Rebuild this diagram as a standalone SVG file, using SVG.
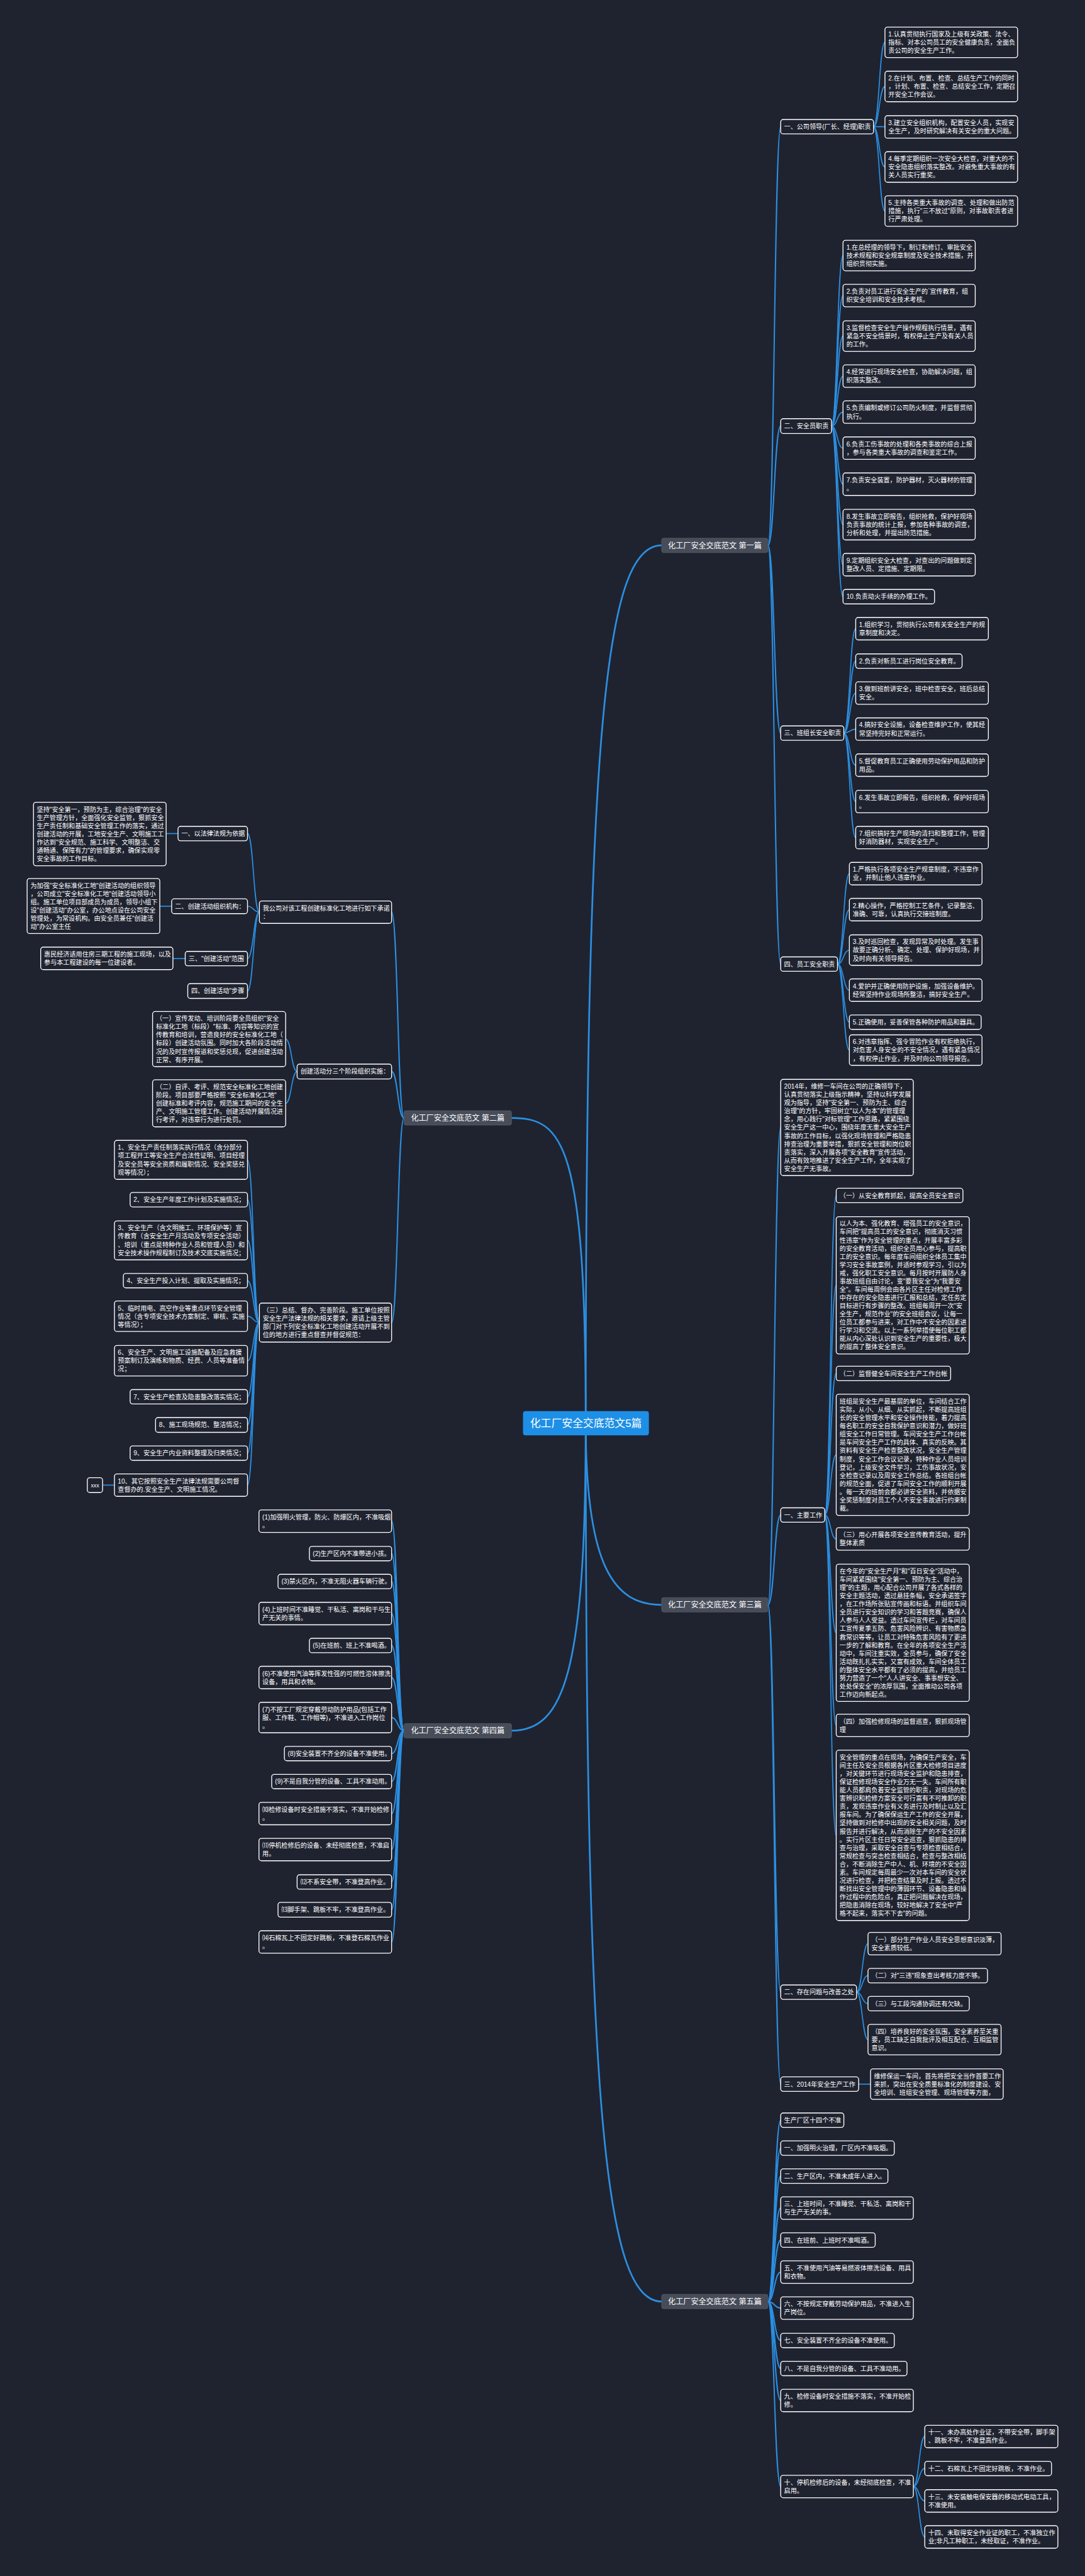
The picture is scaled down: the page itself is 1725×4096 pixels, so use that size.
<svg xmlns="http://www.w3.org/2000/svg" width="1725" height="4096" viewBox="0 0 1725 4096">
<style>
text{font-family:'Liberation Sans','Noto Sans CJK SC',sans-serif;fill:#ffffff}
.n rect{fill:#1f2330;stroke:#ffffff;stroke-width:2}
.n text{font-size:15px}
.l1 rect{fill:#474c59;stroke:#5c616d;stroke-width:1}
.l1 text{font-size:18px;text-anchor:middle}
.c rect{fill:#1d8fe6}
.c text{font-size:25px;text-anchor:middle}
#edges path{fill:none;stroke:#2b90e3;stroke-width:2.5}
#edges .e0{stroke-width:4}
#edges .e1{stroke-width:3}
</style>
<rect width="1725" height="4096" fill="#1f2330"/>
<g transform="scale(0.67383)">
<g id="edges">
<path class="e0" d="M1382 3358 C1382 1700 1430 1287 1561 1287"/>
<path class="e0" d="M1382 3358 C1382 2700 1330 2638 1207 2638"/>
<path class="e0" d="M1382 3358 C1382 3700 1450 3787 1561 3787"/>
<path class="e0" d="M1382 3358 C1382 3950 1330 4084 1207 4084"/>
<path class="e0" d="M1382 3358 C1382 5000 1430 5431 1561 5431"/>
<path class="e1" d="M1812 1287 C1827 1287 1827 299 1842 299"/>
<path class="e1" d="M1812 1287 C1827 1287 1827 1005.5 1842 1005.5"/>
<path class="e1" d="M1812 1287 C1827 1287 1827 1730 1842 1730"/>
<path class="e1" d="M1812 1287 C1827 1287 1827 2275 1842 2275"/>
<path d="M2061 299 C2074.5 299 2074.5 100 2088 100"/>
<path d="M2061 299 C2074.5 299 2074.5 204 2088 204"/>
<path d="M2061 299 C2074.5 299 2074.5 299 2088 299"/>
<path d="M2061 299 C2074.5 299 2074.5 394 2088 394"/>
<path d="M2061 299 C2074.5 299 2074.5 498 2088 498"/>
<path d="M1962 1005.5 C1975.5 1005.5 1975.5 603 1989 603"/>
<path d="M1962 1005.5 C1975.5 1005.5 1975.5 697.5 1989 697.5"/>
<path d="M1962 1005.5 C1975.5 1005.5 1975.5 793 1989 793"/>
<path d="M1962 1005.5 C1975.5 1005.5 1975.5 887.5 1989 887.5"/>
<path d="M1962 1005.5 C1975.5 1005.5 1975.5 972.5 1989 972.5"/>
<path d="M1962 1005.5 C1975.5 1005.5 1975.5 1057.5 1989 1057.5"/>
<path d="M1962 1005.5 C1975.5 1005.5 1975.5 1142.5 1989 1142.5"/>
<path d="M1962 1005.5 C1975.5 1005.5 1975.5 1238 1989 1238"/>
<path d="M1962 1005.5 C1975.5 1005.5 1975.5 1332.5 1989 1332.5"/>
<path d="M1962 1005.5 C1975.5 1005.5 1975.5 1408 1989 1408"/>
<path d="M1991 1730 C2005 1730 2005 1483.5 2019 1483.5"/>
<path d="M1991 1730 C2005 1730 2005 1560 2019 1560"/>
<path d="M1991 1730 C2005 1730 2005 1635.5 2019 1635.5"/>
<path d="M1991 1730 C2005 1730 2005 1720.5 2019 1720.5"/>
<path d="M1991 1730 C2005 1730 2005 1805.5 2019 1805.5"/>
<path d="M1991 1730 C2005 1730 2005 1891.5 2019 1891.5"/>
<path d="M1991 1730 C2005 1730 2005 1976.5 2019 1976.5"/>
<path d="M1976 2275 C1990 2275 1990 2061.5 2004 2061.5"/>
<path d="M1976 2275 C1990 2275 1990 2146.5 2004 2146.5"/>
<path d="M1976 2275 C1990 2275 1990 2242 2004 2242"/>
<path d="M1976 2275 C1990 2275 1990 2336.5 2004 2336.5"/>
<path d="M1976 2275 C1990 2275 1990 2412 2004 2412"/>
<path d="M1976 2275 C1990 2275 1990 2478 2004 2478"/>
<path class="e1" d="M1812 3787 C1827 3787 1827 2660.5 1842 2660.5"/>
<path class="e1" d="M1812 3787 C1827 3787 1827 3575 1842 3575"/>
<path class="e1" d="M1812 3787 C1827 3787 1827 4701 1842 4701"/>
<path class="e1" d="M1812 3787 C1827 3787 1827 4918 1842 4918"/>
<path d="M1946 3575 C1959.5 3575 1959.5 2821 1973 2821"/>
<path d="M1946 3575 C1959.5 3575 1959.5 3033 1973 3033"/>
<path d="M1946 3575 C1959.5 3575 1959.5 3241 1973 3241"/>
<path d="M1946 3575 C1959.5 3575 1959.5 3433 1973 3433"/>
<path d="M1946 3575 C1959.5 3575 1959.5 3631.5 1973 3631.5"/>
<path d="M1946 3575 C1959.5 3575 1959.5 3853 1973 3853"/>
<path d="M1946 3575 C1959.5 3575 1959.5 4071.5 1973 4071.5"/>
<path d="M1946 3575 C1959.5 3575 1959.5 4331 1973 4331"/>
<path d="M2021 4701 C2034.5 4701 2034.5 4586.5 2048 4586.5"/>
<path d="M2021 4701 C2034.5 4701 2034.5 4662 2048 4662"/>
<path d="M2021 4701 C2034.5 4701 2034.5 4728 2048 4728"/>
<path d="M2021 4701 C2034.5 4701 2034.5 4813 2048 4813"/>
<path d="M2026 4918 L2054 4918"/>
<path class="e1" d="M1812 5431 C1827 5431 1827 5003 1842 5003"/>
<path class="e1" d="M1812 5431 C1827 5431 1827 5069 1842 5069"/>
<path class="e1" d="M1812 5431 C1827 5431 1827 5135 1842 5135"/>
<path class="e1" d="M1812 5431 C1827 5431 1827 5210.5 1842 5210.5"/>
<path class="e1" d="M1812 5431 C1827 5431 1827 5286 1842 5286"/>
<path class="e1" d="M1812 5431 C1827 5431 1827 5361.5 1842 5361.5"/>
<path class="e1" d="M1812 5431 C1827 5431 1827 5446.5 1842 5446.5"/>
<path class="e1" d="M1812 5431 C1827 5431 1827 5523 1842 5523"/>
<path class="e1" d="M1812 5431 C1827 5431 1827 5589 1842 5589"/>
<path class="e1" d="M1812 5431 C1827 5431 1827 5664.5 1842 5664.5"/>
<path class="e1" d="M1812 5431 C1827 5431 1827 5867.5 1842 5867.5"/>
<path d="M2155 5867.5 C2168.5 5867.5 2168.5 5749.5 2182 5749.5"/>
<path d="M2155 5867.5 C2168.5 5867.5 2168.5 5825 2182 5825"/>
<path d="M2155 5867.5 C2168.5 5867.5 2168.5 5901.5 2182 5901.5"/>
<path d="M2155 5867.5 C2168.5 5867.5 2168.5 5986.5 2182 5986.5"/>
<path class="e1" d="M953 2638 C938.5 2638 938.5 2152.5 924 2152.5"/>
<path class="e1" d="M953 2638 C938.5 2638 938.5 2528.5 924 2528.5"/>
<path class="e1" d="M953 2638 C938.5 2638 938.5 3121 924 3121"/>
<path d="M612 2152.5 C598 2152.5 598 1967 584 1967"/>
<path d="M612 2152.5 C598 2152.5 598 2138.5 584 2138.5"/>
<path d="M612 2152.5 C598 2152.5 598 2262 584 2262"/>
<path d="M612 2152.5 C598 2152.5 598 2338.5 584 2338.5"/>
<path d="M420 1967 L392 1967"/>
<path d="M405 2138.5 L377 2138.5"/>
<path d="M437 2262 L408 2262"/>
<path d="M701 2528.5 C687.5 2528.5 687.5 2452 674 2452"/>
<path d="M701 2528.5 C687.5 2528.5 687.5 2603.5 674 2603.5"/>
<path d="M612 3121 C598 3121 598 2737 584 2737"/>
<path d="M612 3121 C598 3121 598 2831 584 2831"/>
<path d="M612 3121 C598 3121 598 2927 584 2927"/>
<path d="M612 3121 C598 3121 598 3022 584 3022"/>
<path d="M612 3121 C598 3121 598 3106 584 3106"/>
<path d="M612 3121 C598 3121 598 3211 584 3211"/>
<path d="M612 3121 C598 3121 598 3296 584 3296"/>
<path d="M612 3121 C598 3121 598 3362.5 584 3362.5"/>
<path d="M612 3121 C598 3121 598 3429 584 3429"/>
<path d="M612 3121 C598 3121 598 3504.5 584 3504.5"/>
<path d="M270 3504.5 L242 3504.5"/>
<path class="e1" d="M953 4084 C938.5 4084 938.5 3589.5 924 3589.5"/>
<path class="e1" d="M953 4084 C938.5 4084 938.5 3666 924 3666"/>
<path class="e1" d="M953 4084 C938.5 4084 938.5 3731.5 924 3731.5"/>
<path class="e1" d="M953 4084 C938.5 4084 938.5 3807.5 924 3807.5"/>
<path class="e1" d="M953 4084 C938.5 4084 938.5 3883 924 3883"/>
<path class="e1" d="M953 4084 C938.5 4084 938.5 3958.5 924 3958.5"/>
<path class="e1" d="M953 4084 C938.5 4084 938.5 4053 924 4053"/>
<path class="e1" d="M953 4084 C938.5 4084 938.5 4138 924 4138"/>
<path class="e1" d="M953 4084 C938.5 4084 938.5 4204 924 4204"/>
<path class="e1" d="M953 4084 C938.5 4084 938.5 4279.5 924 4279.5"/>
<path class="e1" d="M953 4084 C938.5 4084 938.5 4364.5 924 4364.5"/>
<path class="e1" d="M953 4084 C938.5 4084 938.5 4441 924 4441"/>
<path class="e1" d="M953 4084 C938.5 4084 938.5 4506.5 924 4506.5"/>
<path class="e1" d="M953 4084 C938.5 4084 938.5 4582.5 924 4582.5"/>
</g>

<g id="center" class="c"><rect x="1234" y="3330" width="297" height="57" rx="6"/><text x="1382.5" y="3367">化工厂安全交底范文5篇</text></g>
<g id="p1" class="l1"><rect x="1561" y="1270" width="251" height="34" rx="5"/><text x="1686.5" y="1293.5">化工厂安全交底范文 第一篇</text></g>
<g id="p2" class="l1"><rect x="953" y="2621" width="254" height="34" rx="5"/><text x="1080" y="2644.5">化工厂安全交底范文 第二篇</text></g>
<g id="p3" class="l1"><rect x="1561" y="3770" width="251" height="34" rx="5"/><text x="1686.5" y="3793.5">化工厂安全交底范文 第三篇</text></g>
<g id="p4" class="l1"><rect x="953" y="4067" width="254" height="34" rx="5"/><text x="1080" y="4090.5">化工厂安全交底范文 第四篇</text></g>
<g id="p5" class="l1"><rect x="1561" y="5414" width="251" height="34" rx="5"/><text x="1686.5" y="5437.5">化工厂安全交底范文 第五篇</text></g>

<!-- 第一篇 -->
<g id="a" class="n"><rect x="1842" y="282" width="219" height="34" rx="6"/><text x="1850" y="304.5">一、公司领导(厂长、经理)职责</text></g>
<g id="a1" class="n"><rect x="2088" y="64" width="313" height="72" rx="6"/><text x="2096" y="86.1"><tspan x="2096">1.认真贯彻执行国家及上级有关政策、法令、</tspan><tspan x="2096" dy="19.4">指标、对本公司员工的安全健康负责，全面负</tspan><tspan x="2096" dy="19.4">责公司的安全生产工作。</tspan></text></g>
<g id="a2" class="n"><rect x="2088" y="168" width="313" height="72" rx="6"/><text x="2096" y="190.1"><tspan x="2096">2.在计划、布置、检查、总结生产工作的同时</tspan><tspan x="2096" dy="19.4">，计划、布置、检查、总结安全工作，定期召</tspan><tspan x="2096" dy="19.4">开安全工作会议。</tspan></text></g>
<g id="a3" class="n"><rect x="2088" y="273" width="313" height="53" rx="6"/><text x="2096" y="295.3"><tspan x="2096">3.建立安全组织机构，配置安全人员，实现安</tspan><tspan x="2096" dy="19.4">全生产，及时研究解决有关安全的重大问题。</tspan></text></g>
<g id="a4" class="n"><rect x="2088" y="358" width="313" height="72" rx="6"/><text x="2096" y="380.1"><tspan x="2096">4.每季定期组织一次安全大检查，对重大的不</tspan><tspan x="2096" dy="19.4">安全隐患组织落实整改。对避免重大事故的有</tspan><tspan x="2096" dy="19.4">关人员实行重奖。</tspan></text></g>
<g id="a5" class="n"><rect x="2088" y="462" width="313" height="72" rx="6"/><text x="2096" y="484.1"><tspan x="2096">5.主持各类重大事故的调查、处理和做出防范</tspan><tspan x="2096" dy="19.4">措施，执行"三不放过"原则，对事故职责者进</tspan><tspan x="2096" dy="19.4">行严肃处理。</tspan></text></g>

<g id="b" class="n"><rect x="1842" y="988" width="120" height="35" rx="6"/><text x="1850" y="1011">二、安全员职责</text></g>
<g id="b1" class="n"><rect x="1989" y="567" width="312" height="72" rx="6"/><text x="1997" y="589.1"><tspan x="1997">1.在总经理的领导下，制订和修订、审批安全</tspan><tspan x="1997" dy="19.4">技术规程和安全规章制度及安全技术措施，并</tspan><tspan x="1997" dy="19.4">组织贯彻实施。</tspan></text></g>
<g id="b2" class="n"><rect x="1989" y="671" width="312" height="53" rx="6"/><text x="1997" y="693.3"><tspan x="1997">2.负责对员工进行安全生产的`宣传教育，组</tspan><tspan x="1997" dy="19.4">织安全培训和安全技术考核。</tspan></text></g>
<g id="b3" class="n"><rect x="1989" y="757" width="312" height="72" rx="6"/><text x="1997" y="779.1"><tspan x="1997">3.监督检查安全生产操作规程执行情景，遇有</tspan><tspan x="1997" dy="19.4">紧急不安全情景时，有权停止生产及有关人员</tspan><tspan x="1997" dy="19.4">的工作。</tspan></text></g>
<g id="b4" class="n"><rect x="1989" y="861" width="312" height="53" rx="6"/><text x="1997" y="883.3"><tspan x="1997">4.经常进行现场安全检查，协助解决问题，组</tspan><tspan x="1997" dy="19.4">织落实整改。</tspan></text></g>
<g id="b5" class="n"><rect x="1989" y="946" width="312" height="53" rx="6"/><text x="1997" y="968.3"><tspan x="1997">5.负责编制或修订公司防火制度，并监督贯彻</tspan><tspan x="1997" dy="19.4">执行。</tspan></text></g>
<g id="b6" class="n"><rect x="1989" y="1031" width="312" height="53" rx="6"/><text x="1997" y="1053.3"><tspan x="1997">6.负责工伤事故的处理和各类事故的综合上报</tspan><tspan x="1997" dy="19.4">，参与各类重大事故的调查和鉴定工作。</tspan></text></g>
<g id="b7" class="n"><rect x="1989" y="1116" width="312" height="53" rx="6"/><text x="1997" y="1138.3"><tspan x="1997">7.负责安全装置，防护器材，灭火器材的管理</tspan><tspan x="1997" dy="19.4">。</tspan></text></g>
<g id="b8" class="n"><rect x="1989" y="1202" width="312" height="72" rx="6"/><text x="1997" y="1224.1"><tspan x="1997">8.发生事故立即报告，组织抢救，保护好现场</tspan><tspan x="1997" dy="19.4">负责事故的统计上报，参加各种事故的调查，</tspan><tspan x="1997" dy="19.4">分析和处理，并提出防范措施。</tspan></text></g>
<g id="b9" class="n"><rect x="1989" y="1306" width="312" height="53" rx="6"/><text x="1997" y="1328.3"><tspan x="1997">9.定期组织安全大检查，对查出的问题做到定</tspan><tspan x="1997" dy="19.4">整改人员、定措施、定期限。</tspan></text></g>
<g id="b10" class="n"><rect x="1989" y="1391" width="216" height="34" rx="6"/><text x="1997" y="1413.5">10.负责动火手续的办理工作。</text></g>

<g id="c" class="n"><rect x="1842" y="1713" width="149" height="34" rx="6"/><text x="1850" y="1735.5">三、班组长安全职责</text></g>
<g id="c1" class="n"><rect x="2019" y="1457" width="313" height="53" rx="6"/><text x="2027" y="1479.3"><tspan x="2027">1.组织学习，贯彻执行公司有关安全生产的规</tspan><tspan x="2027" dy="19.4">章制度和决定。</tspan></text></g>
<g id="c2" class="n"><rect x="2019" y="1543" width="251" height="34" rx="6"/><text x="2027" y="1565.5">2.负责对新员工进行岗位安全教育。</text></g>
<g id="c3" class="n"><rect x="2019" y="1609" width="313" height="53" rx="6"/><text x="2027" y="1631.3"><tspan x="2027">3.做到班前讲安全，班中检查安全，班后总结</tspan><tspan x="2027" dy="19.4">安全。</tspan></text></g>
<g id="c4" class="n"><rect x="2019" y="1694" width="313" height="53" rx="6"/><text x="2027" y="1716.3"><tspan x="2027">4.搞好安全设施，设备检查维护工作，使其经</tspan><tspan x="2027" dy="19.4">常坚持完好和正常运行。</tspan></text></g>
<g id="c5" class="n"><rect x="2019" y="1779" width="313" height="53" rx="6"/><text x="2027" y="1801.3"><tspan x="2027">5.督促教育员工正确使用劳动保护用品和防护</tspan><tspan x="2027" dy="19.4">用品。</tspan></text></g>
<g id="c6" class="n"><rect x="2019" y="1865" width="313" height="53" rx="6"/><text x="2027" y="1887.3"><tspan x="2027">6.发生事故立即报告，组织抢救，保护好现场</tspan><tspan x="2027" dy="19.4">。</tspan></text></g>
<g id="c7" class="n"><rect x="2019" y="1950" width="313" height="53" rx="6"/><text x="2027" y="1972.3"><tspan x="2027">7.组织搞好生产现场的清扫和整理工作，管理</tspan><tspan x="2027" dy="19.4">好消防器材，实现安全生产。</tspan></text></g>

<g id="d" class="n"><rect x="1842" y="2258" width="134" height="34" rx="6"/><text x="1850" y="2280.5">四、员工安全职责</text></g>
<g id="d1" class="n"><rect x="2004" y="2035" width="313" height="53" rx="6"/><text x="2012" y="2057.3"><tspan x="2012">1.严格执行各项安全生产规章制度，不违章作</tspan><tspan x="2012" dy="19.4">业，并制止他人违章作业。</tspan></text></g>
<g id="d2" class="n"><rect x="2004" y="2120" width="313" height="53" rx="6"/><text x="2012" y="2142.3"><tspan x="2012">2.精心操作，严格控制工艺条件，记录整洁、</tspan><tspan x="2012" dy="19.4">准确、可靠，认真执行交接班制度。</tspan></text></g>
<g id="d3" class="n"><rect x="2004" y="2206" width="313" height="72" rx="6"/><text x="2012" y="2228.1"><tspan x="2012">3.及时巡回检查，发现异常及时处理。发生事</tspan><tspan x="2012" dy="19.4">故要正确分析、确定、处理、保护好现场，并</tspan><tspan x="2012" dy="19.4">及时向有关领导报告。</tspan></text></g>
<g id="d4" class="n"><rect x="2004" y="2310" width="313" height="53" rx="6"/><text x="2012" y="2332.3"><tspan x="2012">4.爱护并正确使用防护设施，加强设备维护。</tspan><tspan x="2012" dy="19.4">经常坚持作业现场所整洁，搞好安全生产。</tspan></text></g>
<g id="d5" class="n"><rect x="2004" y="2395" width="311" height="34" rx="6"/><text x="2012" y="2417.5">5.正确使用，妥善保管各种防护用品和器具。</text></g>
<g id="d6" class="n"><rect x="2004" y="2442" width="313" height="72" rx="6"/><text x="2012" y="2464.1"><tspan x="2012">6.对违章指挥、强令冒险作业有权拒绝执行，</tspan><tspan x="2012" dy="19.4">对危害人身安全的不安全情况，遇有紧急情况</tspan><tspan x="2012" dy="19.4">，有权停止作业，并及时向公司领导报告。</tspan></text></g>

<!-- 第三篇 -->
<g id="t0" class="n"><rect x="1842" y="2547" width="313" height="227" rx="6"/><text x="1850" y="2569"><tspan x="1850">2014年，维修一车间在公司的正确领导下，</tspan><tspan x="1850" dy="19.4">认真贯彻落实上级指示精神，坚持以科学发展</tspan><tspan x="1850" dy="19.4">观为指导，坚持"安全第一、预防为主、综合</tspan><tspan x="1850" dy="19.4">治理"的方针，牢固树立"以人为本"的管理理</tspan><tspan x="1850" dy="19.4">念，用心践行"对标管理"工作思路，紧紧围绕</tspan><tspan x="1850" dy="19.4">安全生产这一中心，围绕年度无重大安全生产</tspan><tspan x="1850" dy="19.4">事故的工作目标，以强化现场管理和严格隐患</tspan><tspan x="1850" dy="19.4">排查治理为重要举措，狠抓安全管理和岗位职</tspan><tspan x="1850" dy="19.4">责落实，深入开展各项"安全教育"宣传活动，</tspan><tspan x="1850" dy="19.4">从而有效地推进了安全生产工作，全年实现了</tspan><tspan x="1850" dy="19.4">安全生产无事故。</tspan></text></g>
<g id="t1" class="n"><rect x="1842" y="3558" width="104" height="34" rx="6"/><text x="1850" y="3580.5">一、主要工作</text></g>
<g id="t1a" class="n"><rect x="1973" y="2804" width="299" height="34" rx="6"/><text x="1981" y="2826.5">（一）从安全教育抓起，提高全员安全意识</text></g>
<g id="t1b" class="n"><rect x="1973" y="2871" width="314" height="324" rx="6"/><text x="1981" y="2893"><tspan x="1981">以人为本、强化教育、增强员工的安全意识，</tspan><tspan x="1981" dy="19.4">车间把"提高员工的安全意识，彻底消灭习惯</tspan><tspan x="1981" dy="19.4">性违章"作为安全管理的重点，开展丰富多彩</tspan><tspan x="1981" dy="19.4">的安全教育活动，组织全员用心参与，提高职</tspan><tspan x="1981" dy="19.4">工的安全意识。每年度车间组织全体员工集中</tspan><tspan x="1981" dy="19.4">学习安全事故案例，并适时参观学习，引以为</tspan><tspan x="1981" dy="19.4">戒，强化职工安全意识。每月按时开展防人身</tspan><tspan x="1981" dy="19.4">事故班组自由讨论，变"要我安全"为"我要安</tspan><tspan x="1981" dy="19.4">全"。车间每周例会由各片区主任对检修工作</tspan><tspan x="1981" dy="19.4">中存在的安全隐患进行汇报和总结，定任务定</tspan><tspan x="1981" dy="19.4">目标进行有步骤的整改。班组每周开一次"安</tspan><tspan x="1981" dy="19.4">全生产，规范作业"的安全班组会议，让每一</tspan><tspan x="1981" dy="19.4">位员工都参与进来，对工作中不安全的因素进</tspan><tspan x="1981" dy="19.4">行学习和交流。以上一系列举措使每位职工都</tspan><tspan x="1981" dy="19.4">能从内心深处认识到安全生产的重要性，极大</tspan><tspan x="1981" dy="19.4">的提高了整体安全意识。</tspan></text></g>
<g id="t1c" class="n"><rect x="1973" y="3224" width="270" height="34" rx="6"/><text x="1981" y="3246.5">（二）监督健全车间安全生产工作台帐</text></g>
<g id="t1d" class="n"><rect x="1973" y="3290" width="314" height="286" rx="6"/><text x="1981" y="3312.4"><tspan x="1981">班组是安全生产最基层的单位，车间结合工作</tspan><tspan x="1981" dy="19.4">实际，从小、从细、从实抓起，不断提高班组</tspan><tspan x="1981" dy="19.4">长的安全管理水平和安全操作技能，着力提高</tspan><tspan x="1981" dy="19.4">每名职工的安全自我保护意识和潜力，做好班</tspan><tspan x="1981" dy="19.4">组安全工作日常管理。车间安全生产工作台帐</tspan><tspan x="1981" dy="19.4">是车间安全生产工作的具体、真实的反映。其</tspan><tspan x="1981" dy="19.4">资料有安全生产检查整改状况，安全生产管理</tspan><tspan x="1981" dy="19.4">制度，安全工作会议记录，特种作业人员培训</tspan><tspan x="1981" dy="19.4">登记，上级安全文件学习，工伤事故状况，安</tspan><tspan x="1981" dy="19.4">全检查记录以及周安全工作总结。各班组台帐</tspan><tspan x="1981" dy="19.4">的规范全面，促进了车间安全工作的顺利开展</tspan><tspan x="1981" dy="19.4">。每一天的班前会都必讲安全资料，并依据安</tspan><tspan x="1981" dy="19.4">全奖惩制度对员工个人不安全事故进行约束制</tspan><tspan x="1981" dy="19.4">裁。</tspan></text></g>
<g id="t1e" class="n"><rect x="1973" y="3605" width="314" height="53" rx="6"/><text x="1981" y="3627.3"><tspan x="1981">（三）用心开展各项安全宣传教育活动，提升</tspan><tspan x="1981" dy="19.4">整体素质</tspan></text></g>
<g id="t1f" class="n"><rect x="1973" y="3691" width="314" height="324" rx="6"/><text x="1981" y="3713"><tspan x="1981">在今年的"安全生产月"和"百日安全"活动中，</tspan><tspan x="1981" dy="19.4">车间紧紧围绕"安全第一、预防为主、综合治</tspan><tspan x="1981" dy="19.4">理"的主题，用心配合公司开展了各式各样的</tspan><tspan x="1981" dy="19.4">安全主题活动，透过悬挂条幅，安全承诺签字</tspan><tspan x="1981" dy="19.4">，在工作场所张贴宣传画和标语。并组织车间</tspan><tspan x="1981" dy="19.4">全员进行安全知识的学习和答题竞赛，确保人</tspan><tspan x="1981" dy="19.4">人参与人人受益。透过车间宣传栏，对车间员</tspan><tspan x="1981" dy="19.4">工宣传夏季五防、危害风险辨识、有害物质急</tspan><tspan x="1981" dy="19.4">救常识等等，让员工对特殊危害风险有了更进</tspan><tspan x="1981" dy="19.4">一步的了解和教育。在全年的各项安全生产活</tspan><tspan x="1981" dy="19.4">动中，车间注重实效，全员参与，确保了安全</tspan><tspan x="1981" dy="19.4">活动既扎扎实实，又富有成效，车间全体员工</tspan><tspan x="1981" dy="19.4">的整体安全水平都有了必须的提高，并给员工</tspan><tspan x="1981" dy="19.4">努力营造了一个"人人讲安全、事事想安全、</tspan><tspan x="1981" dy="19.4">处处保安全"的浓厚氛围，全面推动公司各项</tspan><tspan x="1981" dy="19.4">工作迈向新起点。</tspan></text></g>
<g id="t1g" class="n"><rect x="1973" y="4045" width="314" height="53" rx="6"/><text x="1981" y="4067.3"><tspan x="1981">（四）加强检修现场的监督巡查，狠抓现场管</tspan><tspan x="1981" dy="19.4">理</tspan></text></g>
<g id="t1h" class="n"><rect x="1973" y="4130" width="314" height="402" rx="6"/><text x="1981" y="4152.2"><tspan x="1981">安全管理的重点在现场，为确保生产安全，车</tspan><tspan x="1981" dy="19.4">间主任及安全员根据各片区重大检修项目进度</tspan><tspan x="1981" dy="19.4">，对关键环节进行现场安全监护和隐患排查，</tspan><tspan x="1981" dy="19.4">保证检修现场安全作业万无一失。车间所有职</tspan><tspan x="1981" dy="19.4">能人员都肩负着安全监管的职责，对现场的危</tspan><tspan x="1981" dy="19.4">害辨识和检修方案安全可行富有不可推卸的职</tspan><tspan x="1981" dy="19.4">责，发现违章作业有义务进行及时制止以及汇</tspan><tspan x="1981" dy="19.4">报车间。为了确保保运生产工作的安全开展，</tspan><tspan x="1981" dy="19.4">坚持做到对检修中出现的安全相关问题，及时</tspan><tspan x="1981" dy="19.4">报告并进行解决，从而消除生产的不安全因素</tspan><tspan x="1981" dy="19.4">。实行片区主任日常安全巡查，狠抓隐患的排</tspan><tspan x="1981" dy="19.4">查与治理，采取安全自查与专项检查相结合，</tspan><tspan x="1981" dy="19.4">常规检查与突击检查相结合，检查与整改相结</tspan><tspan x="1981" dy="19.4">合，不断消除生产中人、机、环境的不安全因</tspan><tspan x="1981" dy="19.4">素。车间规定每周最少一次对本车间的安全状</tspan><tspan x="1981" dy="19.4">况进行检查，并把检查结果及时上报。透过不</tspan><tspan x="1981" dy="19.4">断找出安全管理中的薄弱环节、设备隐患和操</tspan><tspan x="1981" dy="19.4">作过程中的危险点，真正把问题解决在现场，</tspan><tspan x="1981" dy="19.4">把隐患消除在现场，较好地解决了安全中"严</tspan><tspan x="1981" dy="19.4">格不起来，落实不下去"的问题。</tspan></text></g>
<g id="t2" class="n"><rect x="1842" y="4684" width="179" height="34" rx="6"/><text x="1850" y="4706.5">二、存在问题与改善之处</text></g>
<g id="t2a" class="n"><rect x="2048" y="4560" width="314" height="53" rx="6"/><text x="2056" y="4582.3"><tspan x="2056">（一）部分生产作业人员安全思想意识淡薄，</tspan><tspan x="2056" dy="19.4">安全素质较低。</tspan></text></g>
<g id="t2b" class="n"><rect x="2048" y="4645" width="282" height="34" rx="6"/><text x="2056" y="4667.5">（二）对"三违"现象查出考核力度不够。</text></g>
<g id="t2c" class="n"><rect x="2048" y="4711" width="239" height="34" rx="6"/><text x="2056" y="4733.5">（三）与工段沟通协调还有欠缺。</text></g>
<g id="t2d" class="n"><rect x="2048" y="4777" width="314" height="72" rx="6"/><text x="2056" y="4799.1"><tspan x="2056">（四）培养良好的安全氛围，安全素养至关重</tspan><tspan x="2056" dy="19.4">要，员工缺乏自我批评及相互配合、互相监管</tspan><tspan x="2056" dy="19.4">意识。</tspan></text></g>
<g id="t3" class="n"><rect x="1842" y="4901" width="184" height="34" rx="6"/><text x="1850" y="4923.5">三、2014年安全生产工作</text></g>
<g id="t3a" class="n"><rect x="2054" y="4882" width="313" height="72" rx="6"/><text x="2062" y="4904.1"><tspan x="2062">维修保运一车间，首先将把安全当作首要工作</tspan><tspan x="2062" dy="19.4">来抓，突出在安全质量标准化的制度建设、安</tspan><tspan x="2062" dy="19.4">全培训、班组安全管理、现场管理等方面，</tspan></text></g>

<!-- 第五篇 -->
<g id="f0" class="n"><rect x="1842" y="4986" width="149" height="34" rx="6"/><text x="1850" y="5008.5">生产厂区十四个不准</text></g>
<g id="f1" class="n"><rect x="1842" y="5052" width="268" height="34" rx="6"/><text x="1850" y="5074.5">一、加强明火治理，厂区内不准吸烟。</text></g>
<g id="f2" class="n"><rect x="1842" y="5118" width="253" height="34" rx="6"/><text x="1850" y="5140.5">二、生产区内，不准未成年人进入。</text></g>
<g id="f3" class="n"><rect x="1842" y="5184" width="313" height="53" rx="6"/><text x="1850" y="5206.3"><tspan x="1850">三、上班时间，不准睡觉、干私活、离岗和干</tspan><tspan x="1850" dy="19.4">与生产无关的事。</tspan></text></g>
<g id="f4" class="n"><rect x="1842" y="5269" width="223" height="34" rx="6"/><text x="1850" y="5291.5">四、在班前、上班时不准喝酒。</text></g>
<g id="f5" class="n"><rect x="1842" y="5335" width="313" height="53" rx="6"/><text x="1850" y="5357.3"><tspan x="1850">五、不准使用汽油等易燃液体擦洗设备、用具</tspan><tspan x="1850" dy="19.4">和衣物。</tspan></text></g>
<g id="f6" class="n"><rect x="1842" y="5420" width="313" height="53" rx="6"/><text x="1850" y="5442.3"><tspan x="1850">六、不按规定穿戴劳动保护用品，不准进入生</tspan><tspan x="1850" dy="19.4">产岗位。</tspan></text></g>
<g id="f7" class="n"><rect x="1842" y="5506" width="268" height="34" rx="6"/><text x="1850" y="5528.5">七、安全装置不齐全的设备不准使用。</text></g>
<g id="f8" class="n"><rect x="1842" y="5572" width="298" height="34" rx="6"/><text x="1850" y="5594.5">八、不是自我分管的设备、工具不准动用。</text></g>
<g id="f9" class="n"><rect x="1842" y="5638" width="313" height="53" rx="6"/><text x="1850" y="5660.3"><tspan x="1850">九、检修设备时安全措施不落实，不准开始检</tspan><tspan x="1850" dy="19.4">修。</tspan></text></g>
<g id="f10" class="n"><rect x="1842" y="5841" width="313" height="53" rx="6"/><text x="1850" y="5863.3"><tspan x="1850">十、停机检修后的设备，未经彻底检查，不准</tspan><tspan x="1850" dy="19.4">启用。</tspan></text></g>
<g id="f11" class="n"><rect x="2182" y="5723" width="314" height="53" rx="6"/><text x="2190" y="5745.3"><tspan x="2190">十一、未办高处作业证，不带安全带，脚手架</tspan><tspan x="2190" dy="19.4">、跳板不牢，不准登高作业。</tspan></text></g>
<g id="f12" class="n"><rect x="2182" y="5808" width="299" height="34" rx="6"/><text x="2190" y="5830.5">十二、石棉瓦上不固定好跳板，不准作业。</text></g>
<g id="f13" class="n"><rect x="2182" y="5875" width="314" height="53" rx="6"/><text x="2190" y="5897.3"><tspan x="2190">十三、未安装触电保安器的移动式电动工具，</tspan><tspan x="2190" dy="19.4">不准使用。</tspan></text></g>
<g id="f14" class="n"><rect x="2182" y="5960" width="314" height="53" rx="6"/><text x="2190" y="5982.3"><tspan x="2190">十四、未取得安全作业证的职工，不准独立作</tspan><tspan x="2190" dy="19.4">业;非凡工种职工，未经取证，不准作业。</tspan></text></g>

<!-- 第二篇 -->
<g id="k" class="n"><rect x="612" y="2126" width="312" height="53" rx="6"/><text x="620" y="2148.3"><tspan x="620">我公司对该工程创建标准化工地进行如下承诺</tspan><tspan x="620" dy="19.4">：</tspan></text></g>
<g id="k1" class="n"><rect x="420" y="1950" width="164" height="34" rx="6"/><text x="428" y="1972.5">一、以法律法规为依据</text></g>
<g id="k1l" class="n"><rect x="79" y="1893" width="313" height="150" rx="6"/><text x="87" y="1915.3"><tspan x="87">坚持"安全第一，预防为主，综合治理"的安全</tspan><tspan x="87" dy="19.4">生产管理方针，全面强化安全监管，狠抓安全</tspan><tspan x="87" dy="19.4">生产责任制和基础安全管理工作的落实，通过</tspan><tspan x="87" dy="19.4">创建活动的开展，工地安全生产、文明施工工</tspan><tspan x="87" dy="19.4">作达到"安全规范、施工科学、文明整洁、交</tspan><tspan x="87" dy="19.4">通畅通、保障有力"的管理要求，确保实现零</tspan><tspan x="87" dy="19.4">安全事故的工作目标。</tspan></text></g>
<g id="k2" class="n"><rect x="405" y="2121" width="179" height="35" rx="6"/><text x="413" y="2144">二、创建活动组织机构：</text></g>
<g id="k2l" class="n"><rect x="64" y="2073" width="313" height="130" rx="6"/><text x="72" y="2095"><tspan x="72">为加强"安全标准化工地"创建活动的组织领导</tspan><tspan x="72" dy="19.4">，公司成立"安全标准化工地"创建活动领导小</tspan><tspan x="72" dy="19.4">组。施工单位项目部成员为成员，领导小组下</tspan><tspan x="72" dy="19.4">设"创建活动"办公室，办公地点设在公司安全</tspan><tspan x="72" dy="19.4">管理处，为常设机构。由安全员兼任"创建活</tspan><tspan x="72" dy="19.4">动"办公室主任</tspan></text></g>
<g id="k3" class="n"><rect x="437" y="2245" width="147" height="34" rx="6"/><text x="445" y="2267.5">三、"创建活动"范围</text></g>
<g id="k3l" class="n"><rect x="96" y="2235" width="312" height="53" rx="6"/><text x="104" y="2257.3"><tspan x="104">惠民经济适用住房三期工程的施工现场，以及</tspan><tspan x="104" dy="19.4">参与本工程建设的每一位建设者。</tspan></text></g>
<g id="k4" class="n"><rect x="443" y="2321" width="141" height="35" rx="6"/><text x="451" y="2344">四、创建活动"步骤</text></g>
<g id="m" class="n"><rect x="701" y="2511" width="223" height="35" rx="6"/><text x="709" y="2534">创建活动分三个阶段组织实施：</text></g>
<g id="m1" class="n"><rect x="360" y="2387" width="314" height="130" rx="6"/><text x="368" y="2409"><tspan x="368">（一）宣传发动、培训阶段要全员组织"安全</tspan><tspan x="368" dy="19.4">标准化工地（标段）"标准、内容等知识的宣</tspan><tspan x="368" dy="19.4">传教育和培训，营造良好的安全标准化工地（</tspan><tspan x="368" dy="19.4">标段）创建活动氛围。同时加大各阶段活动情</tspan><tspan x="368" dy="19.4">况的及时宣传报道和奖惩兑现，促进创建活动</tspan><tspan x="368" dy="19.4">正常、有序开展。</tspan></text></g>
<g id="m2" class="n"><rect x="360" y="2548" width="314" height="111" rx="6"/><text x="368" y="2570.2"><tspan x="368">（二）自评、考评、规范安全标准化工地创建</tspan><tspan x="368" dy="19.4">阶段。项目部要严格按照 "安全标准化工地"</tspan><tspan x="368" dy="19.4">创建标准和考评内容，规范施工期间的安全生</tspan><tspan x="368" dy="19.4">产、文明施工管理工作。创建活动开展情况进</tspan><tspan x="368" dy="19.4">行考评，对违章行为进行处罚。</tspan></text></g>
<g id="q" class="n"><rect x="612" y="3075" width="312" height="92" rx="6"/><text x="620" y="3097.4"><tspan x="620">（三）总结、督办、完善阶段。施工单位按照</tspan><tspan x="620" dy="19.4">安全生产法律法规的相关要求，邀请上级主管</tspan><tspan x="620" dy="19.4">部门对下列安全标准化工地创建活动开展不到</tspan><tspan x="620" dy="19.4">位的地方进行重点督查并督促规范：</tspan></text></g>
<g id="q1" class="n"><rect x="270" y="2691" width="314" height="92" rx="6"/><text x="278" y="2713.4"><tspan x="278">1、安全生产责任制落实执行情况（含分部分</tspan><tspan x="278" dy="19.4">项工程开工等安全生产合法性证明、项目经理</tspan><tspan x="278" dy="19.4">及安全员等安全资质和履职情况、安全奖惩兑</tspan><tspan x="278" dy="19.4">现等情况）；</tspan></text></g>
<g id="q2" class="n"><rect x="307" y="2814" width="277" height="34" rx="6"/><text x="315" y="2836.5">2、安全生产年度工作计划及实施情况；</text></g>
<g id="q3" class="n"><rect x="270" y="2881" width="314" height="92" rx="6"/><text x="278" y="2903.4"><tspan x="278">3、安全生产（含文明施工、环境保护等）宣</tspan><tspan x="278" dy="19.4">传教育（含安全生产月活动及专项安全活动）</tspan><tspan x="278" dy="19.4">、培训（重点是特种作业人员和管理人员）和</tspan><tspan x="278" dy="19.4">安全技术操作规程制订及技术交底实施情况；</tspan></text></g>
<g id="q4" class="n"><rect x="291" y="3005" width="293" height="34" rx="6"/><text x="299" y="3027.5">4、安全生产投入计划、提取及实施情况；</text></g>
<g id="q5" class="n"><rect x="270" y="3070" width="314" height="72" rx="6"/><text x="278" y="3092.1"><tspan x="278">5、临时用电、高空作业等重点环节安全管理</tspan><tspan x="278" dy="19.4">情况（含专项安全技术方案制定、审核、实施</tspan><tspan x="278" dy="19.4">等情况）；</tspan></text></g>
<g id="q6" class="n"><rect x="270" y="3175" width="314" height="72" rx="6"/><text x="278" y="3197.1"><tspan x="278">6、安全生产、文明施工设施配备及应急救援</tspan><tspan x="278" dy="19.4">预案制订及演练和物质、经费、人员等准备情</tspan><tspan x="278" dy="19.4">况；</tspan></text></g>
<g id="q7" class="n"><rect x="307" y="3279" width="277" height="34" rx="6"/><text x="315" y="3301.5">7、安全生产检查及隐患整改落实情况；</text></g>
<g id="q8" class="n"><rect x="367" y="3345" width="217" height="35" rx="6"/><text x="375" y="3368">8、施工现场规范、整洁情况；</text></g>
<g id="q9" class="n"><rect x="307" y="3412" width="277" height="34" rx="6"/><text x="315" y="3434.5">9、安全生产内业资料整理及归类情况；</text></g>
<g id="q10" class="n"><rect x="270" y="3478" width="314" height="53" rx="6"/><text x="278" y="3500.3"><tspan x="278">10、其它按照安全生产法律法规需要公司督</tspan><tspan x="278" dy="19.4">查督办的.安全生产、文明施工情况。</tspan></text></g>
<g id="q10x" class="n"><rect x="206" y="3487" width="36" height="35" rx="6"/><text x="224" y="3509.5" text-anchor="middle" style="font-size:13px">xxx</text></g>

<!-- 第四篇 -->
<g id="h1" class="n"><rect x="611" y="3563" width="313" height="53" rx="6"/><text x="619" y="3585.3"><tspan x="619">(1)加强明火管理，防火、防爆区内，不准吸烟</tspan><tspan x="619" dy="19.4">。</tspan></text></g>
<g id="h2" class="n"><rect x="730" y="3649" width="194" height="34" rx="6"/><text x="738" y="3671.5">(2)生产区内不准带进小孩。</text></g>
<g id="h3" class="n"><rect x="656" y="3715" width="268" height="34" rx="6"/><text x="664" y="3737.5">(3)禁火区内，不准无阻火器车辆行驶。</text></g>
<g id="h4" class="n"><rect x="611" y="3781" width="313" height="53" rx="6"/><text x="619" y="3803.3"><tspan x="619">(4)上班时间不准睡觉、干私活、离岗和干与生</tspan><tspan x="619" dy="19.4">产无关的事情。</tspan></text></g>
<g id="h5" class="n"><rect x="730" y="3866" width="194" height="34" rx="6"/><text x="738" y="3888.5">(5)在班前、班上不准喝酒。</text></g>
<g id="h6" class="n"><rect x="611" y="3932" width="313" height="53" rx="6"/><text x="619" y="3954.3"><tspan x="619">(6)不准使用汽油等挥发性强的可燃性溶体擦洗</tspan><tspan x="619" dy="19.4">设备，用具和衣物。</tspan></text></g>
<g id="h7" class="n"><rect x="611" y="4017" width="313" height="72" rx="6"/><text x="619" y="4039.1"><tspan x="619">(7)不按工厂规定穿戴劳动防护用品(包括工作</tspan><tspan x="619" dy="19.4">服、工作鞋、工作帽等)，不准进入工作岗位</tspan><tspan x="619" dy="19.4">。</tspan></text></g>
<g id="h8" class="n"><rect x="671" y="4121" width="253" height="34" rx="6"/><text x="679" y="4143.5">(8)安全装置不齐全的设备不准使用。</text></g>
<g id="h9" class="n"><rect x="641" y="4187" width="283" height="34" rx="6"/><text x="649" y="4209.5">(9)不是自我分管的设备、工具不准动用。</text></g>
<g id="h10" class="n"><rect x="611" y="4253" width="313" height="53" rx="6"/><text x="619" y="4275.3"><tspan x="619">⑽检修设备时安全措施不落实，不准开始检修</tspan><tspan x="619" dy="19.4">。</tspan></text></g>
<g id="h11" class="n"><rect x="611" y="4338" width="313" height="53" rx="6"/><text x="619" y="4360.3"><tspan x="619">⑾停机检修后的设备、未经彻底检查，不准启</tspan><tspan x="619" dy="19.4">用。</tspan></text></g>
<g id="h12" class="n"><rect x="701" y="4424" width="223" height="34" rx="6"/><text x="709" y="4446.5">⑿不系安全带，不准登高作业。</text></g>
<g id="h13" class="n"><rect x="656" y="4489" width="268" height="35" rx="6"/><text x="664" y="4512">⒀脚手架、跳板不牢，不准登高作业。</text></g>
<g id="h14" class="n"><rect x="611" y="4556" width="313" height="53" rx="6"/><text x="619" y="4578.3"><tspan x="619">⒁石棉瓦上不固定好跳板，不准登石棉瓦作业</tspan><tspan x="619" dy="19.4">。</tspan></text></g>
</g>
</svg>
